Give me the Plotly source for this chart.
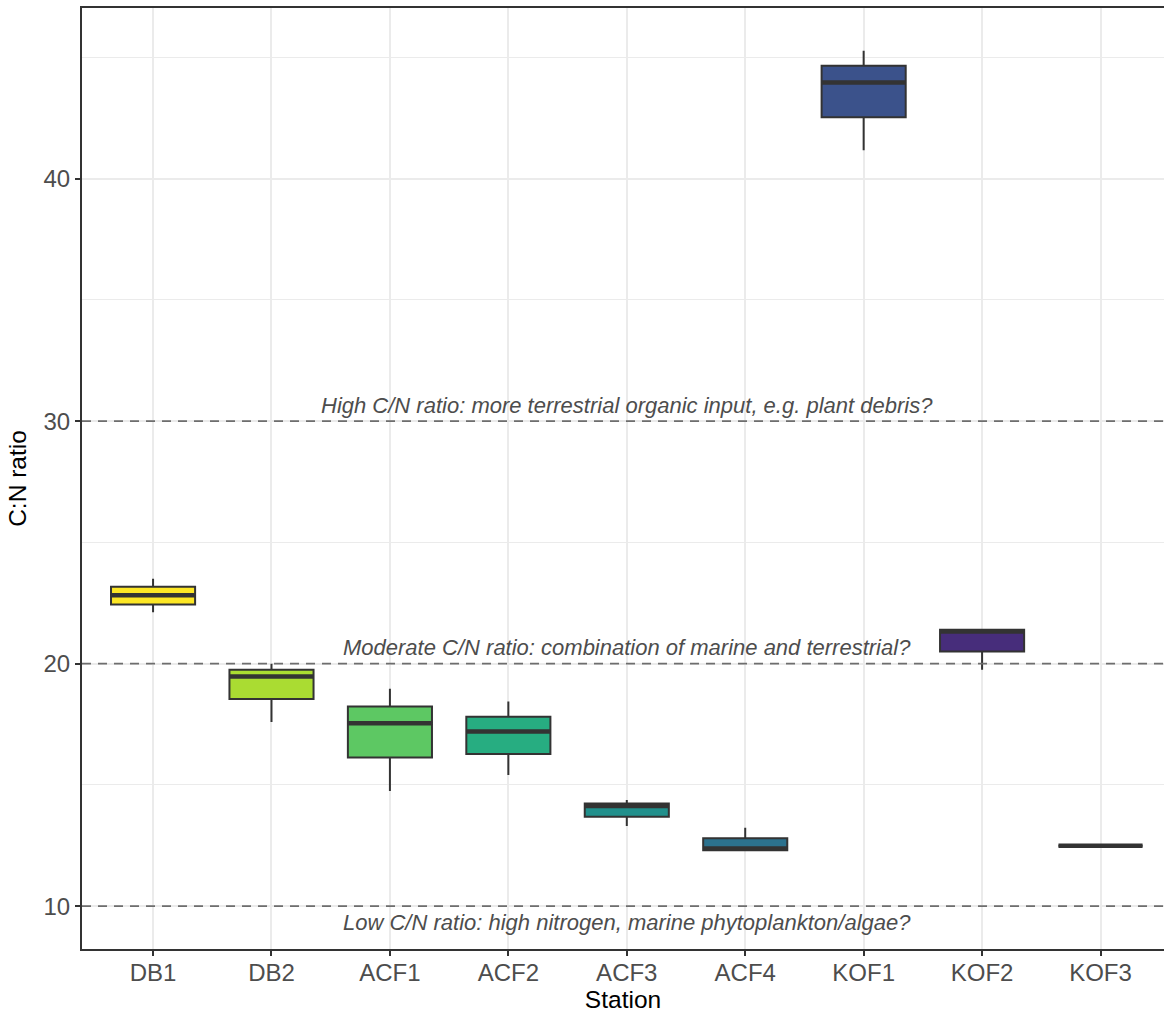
import plotly.graph_objects as go

# Station C:N ratio summary (box statistics per station)
stations = ["DB1", "DB2", "ACF1", "ACF2", "ACF3", "ACF4", "KOF1", "KOF2", "KOF3"]
lower = [22.12, 17.60, 14.75, 15.41, 13.31, 12.31, 41.17, 19.75, 12.49]
q1 = [22.44, 18.55, 16.13, 16.28, 13.69, 12.31, 42.53, 20.50, 12.49]
median = [22.82, 19.47, 17.55, 17.20, 14.13, 12.38, 43.97, 21.33, 12.49]
q3 = [23.17, 19.75, 18.24, 17.81, 14.24, 12.80, 44.66, 21.40, 12.49]
upper = [23.50, 20.00, 18.97, 18.44, 14.38, 13.24, 45.28, 21.40, 12.49]
fills = ["#FDE725", "#AADC32", "#5DC863", "#27AD81", "#21908C",
         "#2C728E", "#3B528B", "#472D7B", "#440154"]

# Reference thresholds and their notes
ref_levels = [30, 20, 10]
ref_notes = [
    "High C/N ratio: more terrestrial organic input, e.g. plant debris?",
    "Moderate C/N ratio: combination of marine and terrestrial?",
    "Low C/N ratio: high nitrogen, marine phytoplankton/algae?",
]
ref_shift = [16, 16, -16]

BOX_W = 0.71
FONT = "Liberation Sans, Arial, sans-serif"

fig = go.Figure()

for i, st in enumerate(stations):
    fig.add_trace(go.Box(
        x=[i], q1=[q1[i]], median=[median[i]], q3=[q3[i]],
        lowerfence=[lower[i]], upperfence=[upper[i]],
        name=st, width=BOX_W, whiskerwidth=0,
        fillcolor=fills[i], line=dict(color="#333333", width=2),
        boxpoints=False, showlegend=False, hoverinfo="skip",
    ))

# thicker median bars, as in a ggplot boxplot
mx, my = [], []
for i in range(len(stations)):
    mx += [i - BOX_W / 2, i + BOX_W / 2, None]
    my += [median[i], median[i], None]
fig.add_trace(go.Scatter(x=mx, y=my, mode="lines",
                         line=dict(color="#333333", width=4.5),
                         showlegend=False, hoverinfo="skip"))

mid = (len(stations) - 1) / 2
for lvl, note, sh in zip(ref_levels, ref_notes, ref_shift):
    fig.add_shape(type="line", xref="paper", x0=0, x1=1, y0=lvl, y1=lvl,
                  line=dict(color="#6E6E6E", width=1.8, dash="9px,7px"),
                  layer="above")
    fig.add_annotation(x=mid, y=lvl, text="<i>" + note + "</i>", showarrow=False,
                       yshift=sh, font=dict(family=FONT, size=22, color="#4D4D4D"))

fig.update_layout(
    width=1164, height=1013,
    margin=dict(l=82, r=0, t=8, b=64),
    plot_bgcolor="white", paper_bgcolor="white",
    font=dict(family=FONT),
    xaxis=dict(
        range=[-0.6, 8.536], tickmode="array",
        tickvals=list(range(len(stations))), ticktext=stations,
        showgrid=True, gridcolor="#EBEBEB", gridwidth=1.6,
        zeroline=False, showline=True, mirror=True,
        linecolor="#333333", linewidth=2,
        ticks="outside", ticklen=5, tickwidth=1.6, tickcolor="#333333",
        ticklabelstandoff=-4,
        tickfont=dict(size=24, color="#4D4D4D"),
        title=dict(text="Station", font=dict(size=24.5, color="black"), standoff=4),
    ),
    yaxis=dict(
        range=[8.236, 47.04], tickmode="array", tickvals=[10, 20, 30, 40],
        showgrid=True, gridcolor="#EBEBEB", gridwidth=1.6,
        minor=dict(tickvals=[15, 25, 35, 45], showgrid=True,
                   gridcolor="#EBEBEB", gridwidth=0.8),
        zeroline=False, showline=True, mirror=False,
        linecolor="#333333", linewidth=2,
        ticks="outside", ticklen=5, tickwidth=1.6, tickcolor="#333333",
        tickfont=dict(size=24, color="#4D4D4D"),
        title=dict(text="C:N ratio", font=dict(size=24.5, color="black"), standoff=10),
    ),
)

fig.write_html("out.html")
